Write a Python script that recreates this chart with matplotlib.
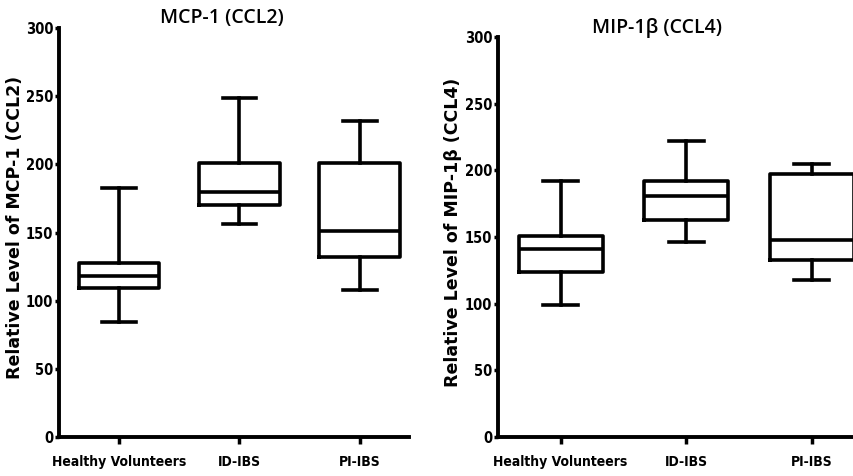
import matplotlib.pyplot as plt
from matplotlib import font_manager
from matplotlib.font_manager import FontProperties

groups = ['Healthy Volunteers', 'ID-IBS', 'PI-IBS']

# MCP-1 (CCL2): min, Q1, median, Q3, max
mcp_min = [84, 156, 108]
mcp_q1 = [109, 170, 132]
mcp_med = [118, 180, 151]
mcp_q3 = [128, 201, 201]
mcp_max = [183, 249, 232]

# MIP-1b (CCL4)
mip_min = [99, 146, 118]
mip_q1 = [124, 163, 133]
mip_med = [141, 181, 148]
mip_q3 = [151, 192, 197]
mip_max = [192, 222, 205]


def is_bold(w):
    return w in ('bold', 'heavy', 'black') or (isinstance(w, int) and w >= 600)


# any narrow / condensed bold face for tick labels, else Roboto
narrow_file = None
for f in font_manager.fontManager.ttflist:
    narrowish = ('Narrow' in f.name or 'Condensed' in f.name
                 or f.stretch in ('condensed', 'semi-condensed', 'extra-condensed')
                 or (isinstance(f.stretch, int) and f.stretch < 100))
    if narrowish and is_bold(f.weight) and f.style == 'normal':
        narrow_file = f.fname
        break

if narrow_file:
    ytick_fp = FontProperties(fname=narrow_file, size=10.5)
    xtick_fp = FontProperties(fname=narrow_file, size=10)
else:
    ytick_fp = FontProperties(family='Roboto', weight='bold', size=10.5)
    xtick_fp = FontProperties(family='Roboto', weight='bold', size=9)


def make_stats(lo, q1, med, q3, hi):
    return [dict(whislo=a, q1=b, med=c, q3=d, whishi=e, fliers=[])
            for a, b, c, d, e in zip(lo, q1, med, q3, hi)]


def draw(ax, stats):
    lw = 2.6
    ax.bxp(stats, positions=[1, 2, 3], widths=0.67, showfliers=False,
           boxprops=dict(color='black', linewidth=lw),
           medianprops=dict(color='black', linewidth=lw),
           whiskerprops=dict(color='black', linewidth=lw),
           capprops=dict(color='black', linewidth=lw), capwidths=0.28)
    ax.set_ylim(0, 300)
    ax.set_xlim(0.5, 3.41)
    ax.set_yticks([0, 50, 100, 150, 200, 250, 300])
    ax.set_xticks([1, 2, 3])
    ax.set_xticklabels(groups)
    for s in ['top', 'right']:
        ax.spines[s].set_visible(False)
    for s in ['left', 'bottom']:
        ax.spines[s].set_linewidth(2.8)
    ax.tick_params(axis='both', width=2.5, length=3, pad=1)
    ax.tick_params(axis='x', length=5, pad=8)
    for lab in ax.get_yticklabels():
        lab.set_fontproperties(ytick_fp)
    for lab in ax.get_xticklabels():
        lab.set_fontproperties(xtick_fp)


fig = plt.figure(figsize=(8.54, 4.76), dpi=100)

ax1 = fig.add_axes([0.069, 0.082, 0.41, 0.859])
draw(ax1, make_stats(mcp_min, mcp_q1, mcp_med, mcp_q3, mcp_max))
ax2 = fig.add_axes([0.583, 0.082, 0.428, 0.840])
draw(ax2, make_stats(mip_min, mip_q1, mip_med, mip_q3, mip_max))

fig.text(0.26, 0.962, 'MCP-1 (CCL2)', ha='center', va='center',
         fontsize=14, family='Open Sans', fontweight='semibold')
fig.text(0.769, 0.941, 'MIP-1β (CCL4)', ha='center', va='center',
         fontsize=14, family='Open Sans', fontweight='semibold')

fig.text(0.018, 0.523, 'Relative Level of MCP-1 (CCL2)', rotation=90,
         ha='center', va='center', fontsize=12.5, fontweight='bold',
         family='DejaVu Sans')
fig.text(0.53, 0.512, 'Relative Level of MIP-1β (CCL4)', rotation=90,
         ha='center', va='center', fontsize=12.5, fontweight='bold',
         family='DejaVu Sans')

fig.savefig('out.png', dpi=100)
